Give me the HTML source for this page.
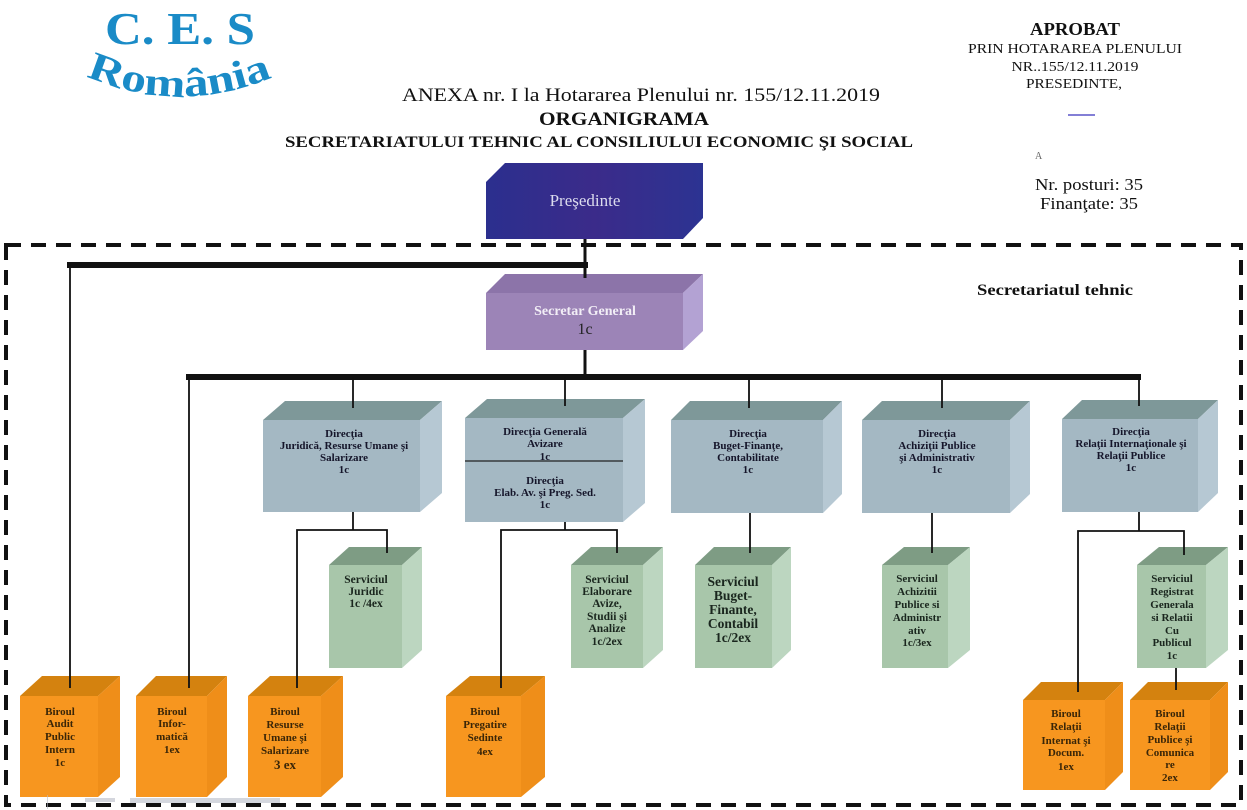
<!DOCTYPE html>
<html><head><meta charset="utf-8"><style>
html,body{margin:0;padding:0;background:#fff;}
svg{display:block;}
text{font-family:"Liberation Serif","DejaVu Serif",serif;}
.b{font-weight:bold;}
</style></head><body>
<svg width="1247" height="810" viewBox="0 0 1247 810" xmlns="http://www.w3.org/2000/svg">
<defs>
<linearGradient id="pg" x1="0" x2="1" y1="0" y2="0">
<stop offset="0" stop-color="#2b2f8e"/><stop offset="0.5" stop-color="#3b2b8a"/><stop offset="1" stop-color="#2c3392"/>
</linearGradient>
<path id="arc" d="M 86 76 Q 182 118 280 74"/>
</defs>
<rect width="1247" height="810" fill="#fff"/>

<!-- Logo -->
<text x="180" y="44" text-anchor="middle" font-size="46" class="b" fill="#1a8bc7" textLength="150" lengthAdjust="spacingAndGlyphs">C. E. S</text>
<text font-size="40" class="b" fill="#1a8bc7"><textPath href="#arc" textLength="192" lengthAdjust="spacingAndGlyphs">România</textPath></text>

<!-- Header -->
<text x="641" y="101" text-anchor="middle" font-size="19" fill="#111" textLength="478" lengthAdjust="spacingAndGlyphs">ANEXA nr. I la Hotararea Plenului nr. 155/12.11.2019</text>
<text x="624" y="125" text-anchor="middle" font-size="19" class="b" fill="#111" textLength="170" lengthAdjust="spacingAndGlyphs">ORGANIGRAMA</text>
<text x="599" y="147" text-anchor="middle" font-size="16" class="b" fill="#111" textLength="628" lengthAdjust="spacingAndGlyphs">SECRETARIATULUI TEHNIC AL CONSILIULUI ECONOMIC ŞI SOCIAL</text>

<text x="1075" y="35" text-anchor="middle" font-size="18" class="b" fill="#111" textLength="90" lengthAdjust="spacingAndGlyphs">APROBAT</text>
<text x="1075" y="53" text-anchor="middle" font-size="14" fill="#111" textLength="214" lengthAdjust="spacingAndGlyphs">PRIN HOTARAREA PLENULUI</text>
<text x="1075" y="71" text-anchor="middle" font-size="14" fill="#111" textLength="127" lengthAdjust="spacingAndGlyphs">NR..155/12.11.2019</text>
<text x="1074" y="88" text-anchor="middle" font-size="14" fill="#111" textLength="96" lengthAdjust="spacingAndGlyphs">PRESEDINTE,</text>
<line x1="1068" y1="115" x2="1095" y2="115" stroke="#5a55c8" stroke-width="1.5"/>
<text x="1035" y="159" font-size="10" fill="#666">A</text>
<text x="1089" y="190" text-anchor="middle" font-size="17" fill="#111" textLength="108" lengthAdjust="spacingAndGlyphs">Nr. posturi: 35</text>
<text x="1089" y="209" text-anchor="middle" font-size="17" fill="#111" textLength="98" lengthAdjust="spacingAndGlyphs">Finanţate: 35</text>
<text x="1055" y="295" text-anchor="middle" font-size="16" class="b" fill="#111" textLength="156" lengthAdjust="spacingAndGlyphs">Secretariatul tehnic</text>

<!-- Dashed frame -->
<rect x="6" y="245" width="1235" height="560" fill="none" stroke="#111" stroke-width="4" stroke-dasharray="15 10"/>

<!-- Presedinte -->
<polygon points="505,163 703,163 703,218 683,239 486,239 486,182" fill="url(#pg)"/>
<text x="585" y="206" text-anchor="middle" font-size="17" fill="#dcdcee">Preşedinte</text>

<!-- Secretar General -->
<polygon points="486,293 505,274 703,274 683,293" fill="#8c74a9"/>
<polygon points="683,293 703,274 703,331 683,350" fill="#b3a2d3"/>
<rect x="486" y="293" width="197" height="57" fill="#9c84b7"/>
<text x="585" y="315" text-anchor="middle" font-size="14" class="b" fill="#f2eef6">Secretar General</text>
<text x="585" y="334" text-anchor="middle" font-size="16" fill="#222">1c</text>

<!-- Row 2: Directii -->
<g>
<polygon points="263,420 285,401 442,401 420,420" fill="#7e9899"/>
<polygon points="420,420 442,401 442,493 420,512" fill="#b6c8d3"/>
<rect x="263" y="420" width="157" height="92" fill="#a4b8c3"/>

<polygon points="465,418 487,399 645,399 623,418" fill="#7e9899"/>
<polygon points="623,418 645,399 645,503 623,522" fill="#b6c8d3"/>
<rect x="465" y="418" width="158" height="104" fill="#a4b8c3"/>
<line x1="465" y1="461" x2="623" y2="461" stroke="#222" stroke-width="1.2"/>

<polygon points="671,420 690,401 842,401 823,420" fill="#7e9899"/>
<polygon points="823,420 842,401 842,494 823,513" fill="#b6c8d3"/>
<rect x="671" y="420" width="152" height="93" fill="#a4b8c3"/>

<polygon points="862,420 882,401 1030,401 1010,420" fill="#7e9899"/>
<polygon points="1010,420 1030,401 1030,494 1010,513" fill="#b6c8d3"/>
<rect x="862" y="420" width="148" height="93" fill="#a4b8c3"/>

<polygon points="1062,419 1082,400 1218,400 1198,419" fill="#7e9899"/>
<polygon points="1198,419 1218,400 1218,493 1198,512" fill="#b6c8d3"/>
<rect x="1062" y="419" width="136" height="93" fill="#a4b8c3"/>
</g>
<g font-size="11" font-weight="bold" fill="#15152a" text-anchor="middle">
<text x="344" y="437">Direcţia</text>
<text x="344" y="449">Juridică, Resurse Umane şi</text>
<text x="344" y="461">Salarizare</text>
<text x="344" y="473">1c</text>

<text x="545" y="435">Direcţia Generală</text>
<text x="545" y="447">Avizare</text>
<text x="545" y="460">1c</text>
<text x="545" y="484">Direcţia</text>
<text x="545" y="496">Elab. Av. şi Preg. Sed.</text>
<text x="545" y="508">1c</text>

<text x="748" y="437">Direcţia</text>
<text x="748" y="449">Buget-Finanţe,</text>
<text x="748" y="461">Contabilitate</text>
<text x="748" y="473">1c</text>

<text x="937" y="437">Direcţia</text>
<text x="937" y="449">Achiziţii Publice</text>
<text x="937" y="461">şi Administrativ</text>
<text x="937" y="473">1c</text>

<text x="1131" y="435">Direcţia</text>
<text x="1131" y="447">Relaţii Internaţionale şi</text>
<text x="1131" y="459">Relaţii Publice</text>
<text x="1131" y="471">1c</text>
</g>

<!-- Row 3: Servicii -->
<g>
<polygon points="329,565 349,547 422,547 402,565" fill="#7e9c84"/>
<polygon points="402,565 422,547 422,650 402,668" fill="#bcd6c0"/>
<rect x="329" y="565" width="73" height="103" fill="#a8c6aa"/>

<polygon points="571,565 591,547 663,547 643,565" fill="#7e9c84"/>
<polygon points="643,565 663,547 663,650 643,668" fill="#bcd6c0"/>
<rect x="571" y="565" width="72" height="103" fill="#a8c6aa"/>

<polygon points="695,565 714,547 791,547 772,565" fill="#7e9c84"/>
<polygon points="772,565 791,547 791,650 772,668" fill="#bcd6c0"/>
<rect x="695" y="565" width="77" height="103" fill="#a8c6aa"/>

<polygon points="882,565 904,547 970,547 948,565" fill="#7e9c84"/>
<polygon points="948,565 970,547 970,650 948,668" fill="#bcd6c0"/>
<rect x="882" y="565" width="66" height="103" fill="#a8c6aa"/>

<polygon points="1137,565 1159,547 1228,547 1206,565" fill="#7e9c84"/>
<polygon points="1206,565 1228,547 1228,650 1206,668" fill="#bcd6c0"/>
<rect x="1137" y="565" width="69" height="103" fill="#a8c6aa"/>
</g>
<g font-size="11.5" font-weight="bold" fill="#1a261e" text-anchor="middle">
<text x="366" y="583">Serviciul</text>
<text x="366" y="595">Juridic</text>
<text x="366" y="607">1c /4ex</text>

<text x="607" y="583">Serviciul</text>
<text x="607" y="595">Elaborare</text>
<text x="607" y="607">Avize,</text>
<text x="607" y="620">Studii şi</text>
<text x="607" y="632">Analize</text>
<text x="607" y="645">1c/2ex</text>

<text x="733" y="586" font-size="13.5">Serviciul</text>
<text x="733" y="600" font-size="13.5">Buget-</text>
<text x="733" y="614" font-size="13.5">Finante,</text>
<text x="733" y="628" font-size="13.5">Contabil</text>
<text x="733" y="642" font-size="13.5">1c/2ex</text>

<text x="917" y="582" font-size="11">Serviciul</text>
<text x="917" y="595" font-size="11">Achizitii</text>
<text x="917" y="608" font-size="11">Publice si</text>
<text x="917" y="621" font-size="11">Administr</text>
<text x="917" y="634" font-size="11">ativ</text>
<text x="917" y="646" font-size="11">1c/3ex</text>

<text x="1172" y="582" font-size="11">Serviciul</text>
<text x="1172" y="595" font-size="11">Registrat</text>
<text x="1172" y="608" font-size="11">Generala</text>
<text x="1172" y="621" font-size="11">si Relatii</text>
<text x="1172" y="634" font-size="11">Cu</text>
<text x="1172" y="646" font-size="11">Publicul</text>
<text x="1172" y="659" font-size="11">1c</text>
</g>

<!-- Row 4: Birouri -->
<g>
<polygon points="20,696 42,676 120,676 98,696" fill="#d4820f"/>
<polygon points="98,696 120,676 120,777 98,797" fill="#ef8e19"/>
<rect x="20" y="696" width="78" height="101" fill="#f7961f"/>

<polygon points="136,696 156,676 227,676 207,696" fill="#d4820f"/>
<polygon points="207,696 227,676 227,777 207,797" fill="#ef8e19"/>
<rect x="136" y="696" width="71" height="101" fill="#f7961f"/>

<polygon points="248,696 270,676 343,676 321,696" fill="#d4820f"/>
<polygon points="321,696 343,676 343,777 321,797" fill="#ef8e19"/>
<rect x="248" y="696" width="73" height="101" fill="#f7961f"/>

<polygon points="446,696 470,676 545,676 521,696" fill="#d4820f"/>
<polygon points="521,696 545,676 545,777 521,797" fill="#ef8e19"/>
<rect x="446" y="696" width="75" height="101" fill="#f7961f"/>

<polygon points="1023,700 1041,682 1123,682 1105,700" fill="#d4820f"/>
<polygon points="1105,700 1123,682 1123,772 1105,790" fill="#ef8e19"/>
<rect x="1023" y="700" width="82" height="90" fill="#f7961f"/>

<polygon points="1130,700 1148,682 1228,682 1210,700" fill="#d4820f"/>
<polygon points="1210,700 1228,682 1228,772 1210,790" fill="#ef8e19"/>
<rect x="1130" y="700" width="80" height="90" fill="#f7961f"/>
</g>
<g font-size="11" font-weight="bold" fill="#3a2608" text-anchor="middle">
<text x="60" y="715">Biroul</text>
<text x="60" y="727">Audit</text>
<text x="60" y="740">Public</text>
<text x="60" y="753">Intern</text>
<text x="60" y="766">1c</text>

<text x="172" y="715">Biroul</text>
<text x="172" y="727">Infor-</text>
<text x="172" y="740">matică</text>
<text x="172" y="753">1ex</text>

<text x="285" y="715">Biroul</text>
<text x="285" y="728">Resurse</text>
<text x="285" y="741">Umane şi</text>
<text x="285" y="754">Salarizare</text>
<text x="285" y="769" font-size="13">3 ex</text>

<text x="485" y="715">Biroul</text>
<text x="485" y="728">Pregatire</text>
<text x="485" y="741">Sedinte</text>
<text x="485" y="755">4ex</text>

<text x="1066" y="717">Biroul</text>
<text x="1066" y="730">Relaţii</text>
<text x="1066" y="744">Internat şi</text>
<text x="1066" y="756">Docum.</text>
<text x="1066" y="770">1ex</text>

<text x="1170" y="717">Biroul</text>
<text x="1170" y="730">Relaţii</text>
<text x="1170" y="743">Publice şi</text>
<text x="1170" y="756">Comunica</text>
<text x="1170" y="768">re</text>
<text x="1170" y="781">2ex</text>
</g>

<!-- Connectors -->
<g stroke="#111" fill="none">
<line x1="585" y1="239" x2="585" y2="278" stroke-width="3"/>
<line x1="67" y1="265" x2="588" y2="265" stroke-width="6"/>
<line x1="585" y1="350" x2="585" y2="378" stroke-width="3"/>
<line x1="186" y1="377" x2="1141" y2="377" stroke-width="6"/>
</g>
<g stroke="#111" stroke-width="1.8" fill="none">
<line x1="70" y1="265" x2="70" y2="688"/>
<line x1="189" y1="377" x2="189" y2="688"/>
<line x1="353" y1="377" x2="353" y2="408"/>
<line x1="565" y1="377" x2="565" y2="406"/>
<line x1="749" y1="377" x2="749" y2="408"/>
<line x1="942" y1="377" x2="942" y2="408"/>
<line x1="1139" y1="377" x2="1139" y2="406"/>

<polyline points="353,512 353,530"/>
<polyline points="297,688 297,530 387,530 387,553"/>
<polyline points="565,522 565,530"/>
<polyline points="501,688 501,530 617,530 617,553"/>
<line x1="750" y1="513" x2="750" y2="553"/>
<line x1="932" y1="513" x2="932" y2="553"/>
<polyline points="1139,512 1139,531"/>
<polyline points="1078,692 1078,531 1184,531 1184,555"/>
<line x1="1176" y1="668" x2="1176" y2="690"/>
</g>

<!-- scanned noise bottom-left -->
<g fill="#b8bcc8" opacity="0.6">
<rect x="47" y="795" width="1" height="14"/>
<rect x="85" y="798" width="30" height="4"/>
<rect x="130" y="798" width="150" height="5"/>
</g>
</svg>
</body></html>
